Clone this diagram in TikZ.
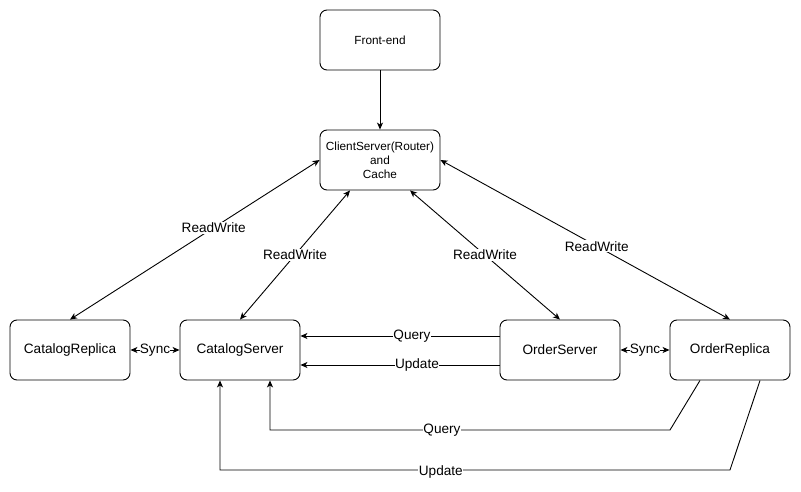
\documentclass[tikz,border=0pt]{standalone}
\usepackage{fontspec}
\setmainfont{Liberation Sans}
\usetikzlibrary{arrows.meta}
\begin{document}
\begin{tikzpicture}[x=1pt,y=-1pt,
  box/.style={draw,line width=0.9pt,rounded corners=7pt,minimum width=120pt,minimum height=60pt,inner sep=0pt,align=center,font=\fontsize{13.6}{15.5}\selectfont},
  smallbox/.style={box,font=\fontsize{11.8}{13.8}\selectfont},
  conn/.style={line width=0.9pt,-{Stealth[length=7pt,width=6pt,inset=2pt]}},
  bconn/.style={line width=0.9pt,{Stealth[length=7pt,width=6pt,inset=2pt]}-{Stealth[length=7pt,width=6pt,inset=2pt]}},
  lbl/.style={fill=white,inner sep=1pt,font=\fontsize{13.6}{15.5}\selectfont}]
\useasboundingbox (0,0) rectangle (801,492);
\node[smallbox] (fe) at (380,40) {Front-end};
\node[smallbox] (cs) at (380,160) {ClientServer(Router)\\and\\Cache};
\node[box] (cr) at (70,350) {CatalogReplica};
\node[box] (cat) at (240,350) {CatalogServer};
\node[box] (os) at (560,350) {OrderServer};
\node[box] (or) at (730,350) {OrderReplica};

\draw[conn] (fe) -- (cs);
\draw[bconn] (cr.north) -- node[lbl,pos=0.576]{ReadWrite} (cs.west);
\draw[bconn] (cat.north) -- node[lbl,pos=0.5]{ReadWrite} (cs.south west -| 350,0);
\draw[bconn] (os.north) -- node[lbl,pos=0.5]{ReadWrite} (cs.south west -| 410,0);
\draw[bconn] (or.north) -- node[lbl,pos=0.46]{ReadWrite} (cs.east);

\draw[bconn] (cr.east) -- node[lbl,inner sep=0pt]{Sync} (cat.west);
\draw[bconn] (os.east) -- node[lbl,inner sep=0pt]{Sync} (or.west);

\coordinate (q1) at (os.west |- 0,336);
\coordinate (q2) at (cat.east |- 0,336);
\draw[conn] (q1) -- node[lbl,pos=0.44,inner sep=0.5pt]{Query} (q2);
\coordinate (u1) at (os.west |- 0,365);
\coordinate (u2) at (cat.east |- 0,365);
\draw[conn] (u1) -- node[lbl,pos=0.415,inner sep=0.5pt]{Update} (u2);

\coordinate (a0) at (or.south -| 700,0);
\coordinate (a1) at (670,430);
\coordinate (a2) at (270,430);
\coordinate (a3) at (cat.south -| 270,0);
\draw[conn] (a0) -- (a1) -- node[lbl,pos=0.57,inner sep=0.5pt]{Query} (a2) -- (a3);

\coordinate (b0) at (or.south -| 760,0);
\coordinate (b1) at (730,470);
\coordinate (b2) at (220,470);
\coordinate (b3) at (cat.south -| 220,0);
\draw[conn] (b0) -- (b1) -- node[lbl,pos=0.567,inner sep=0.5pt,yshift=-2pt]{Update} (b2) -- (b3);
\end{tikzpicture}
\end{document}
